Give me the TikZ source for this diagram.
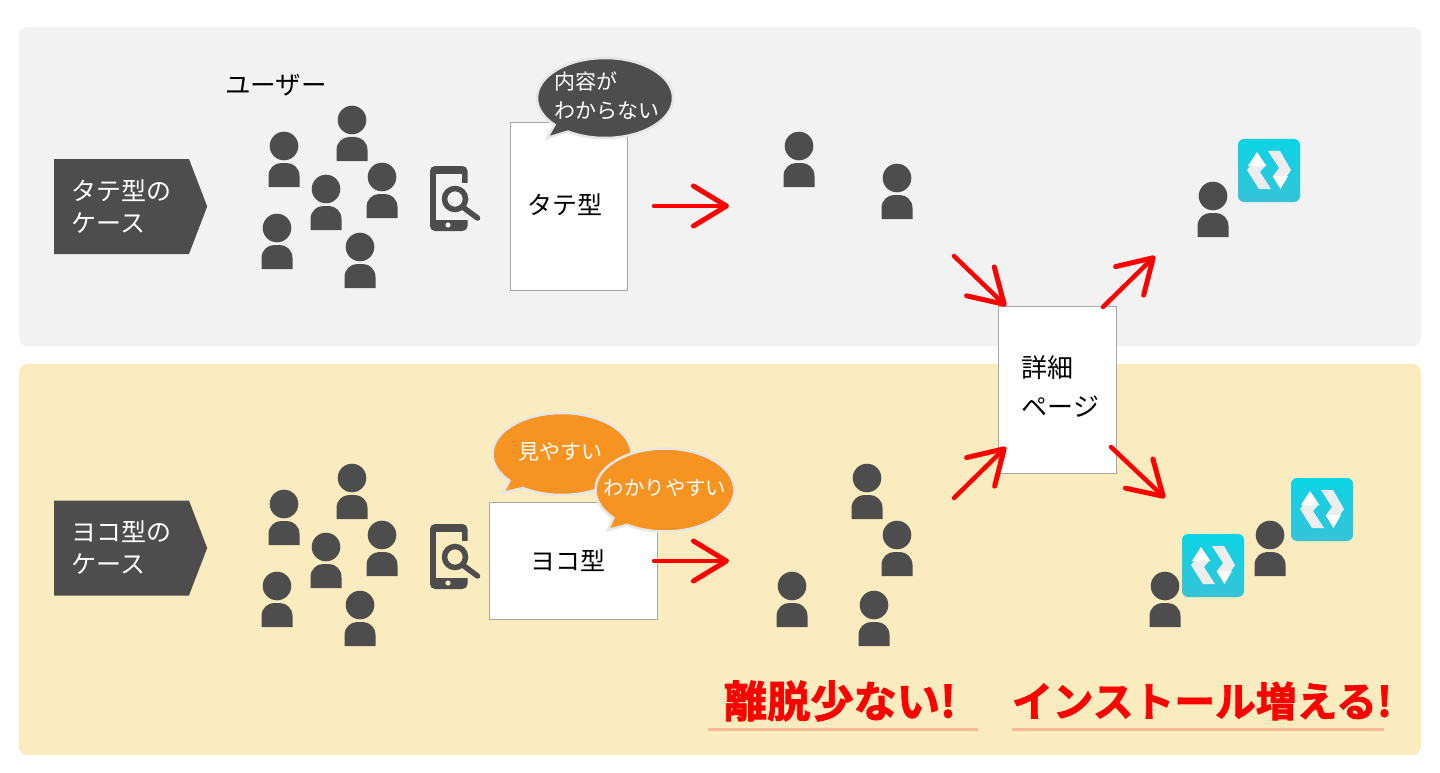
\documentclass[tikz,border=0pt]{standalone}
\usepackage{fontspec}
\setmainfont{Noto Sans CJK JP}
\newfontfamily\cjkheavy[FakeBold=2]{Noto Sans CJK JP Bold}
\usetikzlibrary{arrows.meta,shapes.callouts,shapes.geometric,shapes.symbols}
\definecolor{dk}{HTML}{4D4D4D}
\definecolor{pgray}{HTML}{F2F2F2}
\definecolor{pyel}{HTML}{FBECBF}
\definecolor{org}{HTML}{F79321}
\definecolor{edgeg}{HTML}{A6A6A6}
\definecolor{ulc}{HTML}{F9B797}
\definecolor{icA}{HTML}{0CD3E6}
\definecolor{icB}{HTML}{36C3D8}
\definecolor{halo}{HTML}{E6E6E6}
\newcommand{\fs}[1]{\fontsize{#1}{#1}\selectfont}
\newcommand{\ctext}[1]{\makebox[0pt][c]{\begin{tabular}{@{}l@{}}#1\end{tabular}}}
\tikzset{
  x=1pt,y=-1pt,
  panel/.style={rounded corners=8pt,draw=none},
  pagebox/.style={draw=edgeg,line width=1pt,fill=white,inner sep=0pt,anchor=north west,font=\fs{25}},
  tag/.style={signal,signal to=east,signal pointer angle=138,fill=dk,draw=none,text=white,inner sep=0pt,minimum width=153pt,minimum height=95pt,anchor=west,font=\fs{25},align=left,text width=100pt},
  bubble/.style={ellipse callout,fill=#1,draw=halo,line width=2.5pt,text=white,inner sep=0pt,font=\fs{21},callout pointer width=18pt},
  flow/.style={red,line width=4.5pt,line cap=round,-{Straight Barb[length=33pt,width=40pt,round,line width=5pt]}},
  uline/.style={ulc,line width=2.6pt},
  headline/.style={red,anchor=center,inner sep=0pt},
  plain/.style={inner sep=0pt,anchor=west}
}
% person: head centre at (#1,#2)
\newcommand{\person}[2]{%
  \fill[dk] (#1,#2) circle[radius=14.3];
  \fill[dk] (#1-15.5,#2+41) -- (#1-15.5,#2+30) .. controls (#1-15.5,#2+22) and (#1-9,#2+17) .. (#1-3,#2+17)
    -- (#1+3,#2+17) .. controls (#1+9,#2+17) and (#1+15.5,#2+22) .. (#1+15.5,#2+30) -- (#1+15.5,#2+41) -- cycle;
}
\newcommand{\crowd}[1]{%
  \person{284}{146+#1}\person{352}{120+#1}\person{326}{189+#1}%
  \person{382}{177+#1}\person{277}{228+#1}\person{360}{247+#1}%
}
% app icon: top-left corner at (#1,#2)
\newcommand{\appicon}[2]{%
  \shade[top color=icA,bottom color=icB,rounded corners=6pt] (#1,#2) rectangle (#1+62,#2+63);
  \fill[white!86!gray] (#1+9,#2+31) -- (#1+13,#2+26) -- (#1+28,#2+26) -- (#1+22,#2+33) -- (#1+33,#2+50) -- (#1+21,#2+50) -- cycle;
  \fill[white!86!gray] (#1+30,#2+12) -- (#1+42,#2+12) -- (#1+53,#2+31) -- (#1+49,#2+37) -- (#1+35,#2+37) -- (#1+41,#2+29) -- cycle;
  \fill[white] (#1+19,#2+13) -- (#1+28.5,#2+27) -- (#1+10,#2+27) -- cycle;
  \fill[white] (#1+34.5,#2+37) -- (#1+50,#2+37) -- (#1+42.5,#2+50) -- cycle;
}
% phone icon: top-left corner at (#1,#2), background colour #3
\newcommand{\phoneicon}[3]{%
  \fill[dk,rounded corners=5pt] (#1,#2) rectangle (#1+37.5,#2+65);
  \fill[#3] (#1+6,#2+8) rectangle (#1+31.5,#2+54);
  \fill[#3] (#1+31,#2+17) rectangle (#1+38,#2+54);
  \fill[#3] (#1+25,#2+33) circle[radius=16];
  \draw[#3,line width=10pt] (#1+35,#2+43) -- (#1+46,#2+52);
  \draw[dk,line width=5.5pt] (#1+25,#2+33) circle[radius=10.5];
  \draw[dk,line width=5.5pt,line cap=round] (#1+34,#2+42) -- (#1+47.5,#2+52);
  \fill[#3] (#1+18,#2+59) circle[radius=2.6];
}
\begin{document}
\begin{tikzpicture}
\useasboundingbox (0,0) rectangle (1440,773);
\fill[white] (0,0) rectangle (1440,773);
\fill[pgray,panel] (19,27) rectangle (1421,346);
\fill[pyel,panel] (19,364) rectangle (1421,755);

% tags
\node[tag] (tagA) at (54,206.5) {タテ型の\\[7pt]ケース};
\node[tag] (tagB) at (54,548) {ヨコ型の\\[7pt]ケース};
\node[plain,font=\fs{25.5}] (users) at (225,85) {ユーザー};

% people
\crowd{0}
\crowd{358}
\person{799}{146}\person{897}{178}\person{1213}{196}
\person{867}{478}\person{897}{535}\person{792}{586}\person{874}{605}
\person{1270}{535}\person{1165}{586}

% icons
\phoneicon{430}{166}{pgray}
\phoneicon{430}{524}{pyel}
\appicon{1238}{139}
\appicon{1291}{478}
\appicon{1182}{534}

% pages
\node[pagebox,minimum width=117pt,minimum height=168pt] (tate) at (510,122) {\raisebox{5pt}{\hspace{-8pt}タテ型}};
\node[pagebox,minimum width=168pt,minimum height=117pt] (yoko) at (489,502) {\hspace{-12pt}ヨコ型};
\node[pagebox,minimum width=118pt,minimum height=167pt,font=\fs{26}] (detail) at (998,306) {\hspace{6pt}\raisebox{5pt}{\begin{tabular}{@{}l@{}}詳細\\[10pt]ページ\end{tabular}}};

% speech bubbles
\node[bubble=dk,minimum width=136pt,minimum height=80pt,callout absolute pointer={(547,138)}] (bA) at (605,98) {\hspace{3pt}\raisebox{0pt}{\ctext{内容が\\[6pt]わからない}}};
\node[bubble=org,minimum width=139pt,minimum height=82pt,callout absolute pointer={(503,493)}] (bB) at (562,454) {\hspace{-4pt}\raisebox{-2pt}{\ctext{見やすい}}};
\node[bubble=org,minimum width=139pt,minimum height=83pt,callout absolute pointer={(608,530)}] (bC) at (665,490) {\raisebox{-2pt}{\ctext{\fs{20.4}わかりやすい}}};

% connector ends
\coordinate (a1s) at (654,206);
\coordinate (a1e) at (729,206);
\coordinate (a2s) at (954,256);
\coordinate (a2e) at (1006,306);
\coordinate (a3s) at (1103,307);
\coordinate (a3e) at (1155,256);
\coordinate (a4s) at (954,498);
\coordinate (a4e) at (1006,447);
\coordinate (a5s) at (1111,447);
\coordinate (a5e) at (1165,498);
\coordinate (a6s) at (654,561);
\coordinate (a6e) at (729,561);
\draw[flow] (a1s) -- (a1e);
\draw[flow] (a2s) -- (a2e);
\draw[flow] (a3s) -- (a3e);
\draw[flow] (a4s) -- (a4e);
\draw[flow] (a5s) -- (a5e);
\draw[flow] (a6s) -- (a6e);

% headlines
\node[headline] (h1) at (840,701) {\resizebox{232pt}{!}{\cjkheavy\fs{42}離脱少ない!}};
\node[headline] (h2) at (1202,701) {\resizebox{380pt}{!}{\cjkheavy\fs{40}インストール増える!}};
\coordinate (u1a) at (708,729.5);
\coordinate (u1b) at (978,729.5);
\coordinate (u2a) at (1012,729.5);
\coordinate (u2b) at (1384,729.5);
\draw[uline] (u1a) -- (u1b);
\draw[uline] (u2a) -- (u2b);
\end{tikzpicture}
\end{document}
